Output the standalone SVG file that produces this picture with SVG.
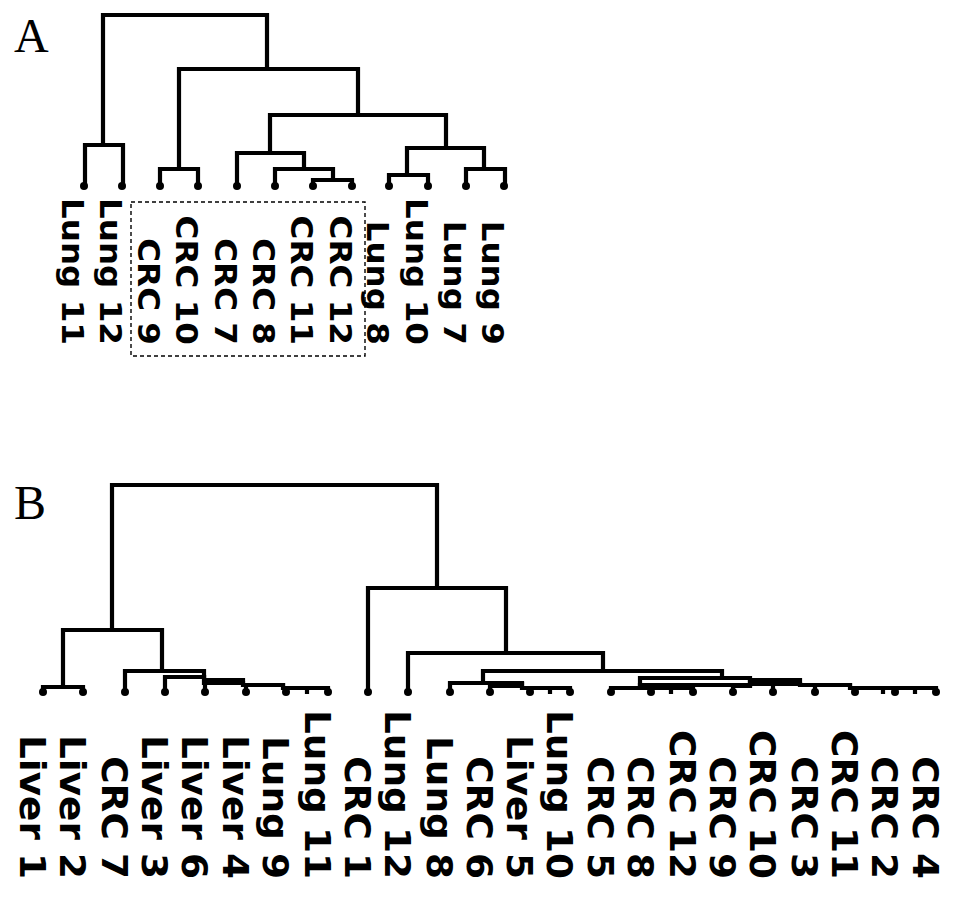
<svg xmlns="http://www.w3.org/2000/svg" width="969" height="907" viewBox="0 0 969 907">
<style>
.tree{fill:none;stroke:#000;stroke-width:4.2;stroke-linejoin:miter;stroke-linecap:square}
.dot{fill:#000}
.la{font-family:"DejaVu Sans",Verdana,sans-serif;font-weight:bold;font-size:31px;fill:#000}
.lb{font-family:"DejaVu Sans",Verdana,sans-serif;font-weight:bold;font-size:35px;fill:#000}
.panel{font-family:"Liberation Serif","Times New Roman",serif;font-size:48px;fill:#000}
.box{fill:none;stroke:#000;stroke-width:1.4;stroke-dasharray:4 3}
</style>
<rect width="969" height="907" fill="#fff"/>
<text class="panel" x="14" y="52">A</text>
<text class="panel" x="14" y="519">B</text>

<g id="connectors">
 <g id="treeA" class="tree">
  <path d="M103,145 V15 H267 V69"/>
  <path d="M85,186 V145 H123 V186"/>
  <path d="M179,169 V69 H358 V115"/>
  <path d="M160,186 V169 H198 V186"/>
  <path d="M270,153 V115 H446 V148"/>
  <path d="M237,186 V153 H304 V169"/>
  <path d="M275,186 V169 H333 V180"/>
  <path d="M313,186 V180 H352 V186"/>
  <path d="M407,175 V148 H484 V169"/>
  <path d="M389,186 V175 H428 V186"/>
  <path d="M466,186 V169 H505 V186"/>
 </g>
 <g id="treeB" class="tree">
  <path d="M112,630 V485 H437 V588"/>
  <path d="M63,687 V630 H162 V671"/>
  <path d="M43,692 V687 H83 V692"/>
  <path d="M125,692 V671 H204 V677"/>
  <path d="M165,692 V677 H204"/>
  <path d="M204,677 V680 H243 M204,683 H243"/>
  <path d="M205,692 V683"/>
  <path d="M243,683 V685 H283 M246,692 V685"/>
  <path d="M283,685 V688 H328 M286,692 V688 M307,692 V688 M328,692 V688"/>
  <path d="M368,692 V588 H506 V653"/>
  <path d="M408,692 V653 H603 V671"/>
  <path d="M483,683 V671 H722 V678"/>
  <path d="M450,692 V683 H522 M490,692 V686 H522"/>
  <path d="M522,684 V688 H570 M530,692 V688 M550,692 V688 M570,692 V688"/>
  <path d="M640,685 V678 H750 V685 H640"/>
  <path d="M750,680 H800 M750,684 H800 M733,692 V686 H750"/>
  <path d="M773,692 V684 M800,684 V685 H850 M815,692 V685"/>
  <path d="M850,685 V688 H936 M855,692 V688 M883,692 V688 M895,692 V688 M915,692 V688 M936,692 V688"/>
  <path d="M640,685 V688 M611,692 V688 H693 M651,692 V688 M671,692 V688 M693,692 V688"/>
 </g>
</g>

<rect class="box" x="131" y="202" width="234" height="154"/>

<g id="A-Lung11"><circle class="dot" cx="84" cy="186" r="4"/><text class="la" text-anchor="end" transform="translate(62,345) rotate(90) scale(1.05,1)">Lung 11</text></g>
<g id="A-Lung12"><circle class="dot" cx="122" cy="186" r="4"/><text class="la" text-anchor="end" transform="translate(100,345) rotate(90) scale(1.05,1)">Lung 12</text></g>
<g id="A-CRC9"><circle class="dot" cx="160" cy="186" r="4"/><text class="la" text-anchor="end" transform="translate(138,345) rotate(90) scale(1.05,1)">CRC 9</text></g>
<g id="A-CRC10"><circle class="dot" cx="198" cy="186" r="4"/><text class="la" text-anchor="end" transform="translate(176,345) rotate(90) scale(1.05,1)">CRC 10</text></g>
<g id="A-CRC7"><circle class="dot" cx="237" cy="186" r="4"/><text class="la" text-anchor="end" transform="translate(215,345) rotate(90) scale(1.05,1)">CRC 7</text></g>
<g id="A-CRC8"><circle class="dot" cx="275" cy="186" r="4"/><text class="la" text-anchor="end" transform="translate(253,345) rotate(90) scale(1.05,1)">CRC 8</text></g>
<g id="A-CRC11"><circle class="dot" cx="313" cy="186" r="4"/><text class="la" text-anchor="end" transform="translate(291,345) rotate(90) scale(1.05,1)">CRC 11</text></g>
<g id="A-CRC12"><circle class="dot" cx="352" cy="186" r="4"/><text class="la" text-anchor="end" transform="translate(330,345) rotate(90) scale(1.05,1)">CRC 12</text></g>
<g id="A-Lung8"><circle class="dot" cx="389" cy="186" r="4"/><text class="la" text-anchor="end" transform="translate(367,345) rotate(90) scale(1.05,1)">Lung 8</text></g>
<g id="A-Lung10"><circle class="dot" cx="428" cy="186" r="4"/><text class="la" text-anchor="end" transform="translate(406,345) rotate(90) scale(1.05,1)">Lung 10</text></g>
<g id="A-Lung7"><circle class="dot" cx="466" cy="186" r="4"/><text class="la" text-anchor="end" transform="translate(444,345) rotate(90) scale(1.05,1)">Lung 7</text></g>
<g id="A-Lung9"><circle class="dot" cx="504" cy="186" r="4"/><text class="la" text-anchor="end" transform="translate(482,345) rotate(90) scale(1.05,1)">Lung 9</text></g>

<g id="B-Liver1"><circle class="dot" cx="43" cy="692" r="4"/><text class="lb" text-anchor="end" transform="translate(20,879) rotate(90) scale(1.07,1)">Liver 1</text></g>
<g id="B-Liver2"><circle class="dot" cx="83" cy="692" r="4"/><text class="lb" text-anchor="end" transform="translate(60,879) rotate(90) scale(1.07,1)">Liver 2</text></g>
<g id="B-CRC7"><circle class="dot" cx="125" cy="692" r="4"/><text class="lb" text-anchor="end" transform="translate(102,879) rotate(90) scale(1.07,1)">CRC 7</text></g>
<g id="B-Liver3"><circle class="dot" cx="165" cy="692" r="4"/><text class="lb" text-anchor="end" transform="translate(142,879) rotate(90) scale(1.07,1)">Liver 3</text></g>
<g id="B-Liver6"><circle class="dot" cx="205" cy="692" r="4"/><text class="lb" text-anchor="end" transform="translate(182,879) rotate(90) scale(1.07,1)">Liver 6</text></g>
<g id="B-Liver4"><circle class="dot" cx="246" cy="692" r="4"/><text class="lb" text-anchor="end" transform="translate(223,879) rotate(90) scale(1.07,1)">Liver 4</text></g>
<g id="B-Lung9"><circle class="dot" cx="286" cy="692" r="4"/><text class="lb" text-anchor="end" transform="translate(263,879) rotate(90) scale(1.07,1)">Lung 9</text></g>
<g id="B-Lung11"><circle class="dot" cx="328" cy="692" r="4"/><text class="lb" text-anchor="end" transform="translate(305,879) rotate(90) scale(1.07,1)">Lung 11</text></g>
<g id="B-CRC1"><circle class="dot" cx="368" cy="692" r="4"/><text class="lb" text-anchor="end" transform="translate(345,879) rotate(90) scale(1.07,1)">CRC 1</text></g>
<g id="B-Lung12"><circle class="dot" cx="408" cy="692" r="4"/><text class="lb" text-anchor="end" transform="translate(385,879) rotate(90) scale(1.07,1)">Lung 12</text></g>
<g id="B-Lung8"><circle class="dot" cx="450" cy="692" r="4"/><text class="lb" text-anchor="end" transform="translate(427,879) rotate(90) scale(1.07,1)">Lung 8</text></g>
<g id="B-CRC6"><circle class="dot" cx="490" cy="692" r="4"/><text class="lb" text-anchor="end" transform="translate(467,879) rotate(90) scale(1.07,1)">CRC 6</text></g>
<g id="B-Liver5"><circle class="dot" cx="530" cy="692" r="4"/><text class="lb" text-anchor="end" transform="translate(507,879) rotate(90) scale(1.07,1)">Liver 5</text></g>
<g id="B-Lung10"><circle class="dot" cx="570" cy="692" r="4"/><text class="lb" text-anchor="end" transform="translate(547,879) rotate(90) scale(1.07,1)">Lung 10</text></g>
<g id="B-CRC5"><circle class="dot" cx="611" cy="692" r="4"/><text class="lb" text-anchor="end" transform="translate(588,879) rotate(90) scale(1.07,1)">CRC 5</text></g>
<g id="B-CRC8"><circle class="dot" cx="651" cy="692" r="4"/><text class="lb" text-anchor="end" transform="translate(628,879) rotate(90) scale(1.07,1)">CRC 8</text></g>
<g id="B-CRC12"><circle class="dot" cx="693" cy="692" r="4"/><text class="lb" text-anchor="end" transform="translate(670,879) rotate(90) scale(1.07,1)">CRC 12</text></g>
<g id="B-CRC9"><circle class="dot" cx="733" cy="692" r="4"/><text class="lb" text-anchor="end" transform="translate(710,879) rotate(90) scale(1.07,1)">CRC 9</text></g>
<g id="B-CRC10"><circle class="dot" cx="773" cy="692" r="4"/><text class="lb" text-anchor="end" transform="translate(750,879) rotate(90) scale(1.07,1)">CRC 10</text></g>
<g id="B-CRC3"><circle class="dot" cx="815" cy="692" r="4"/><text class="lb" text-anchor="end" transform="translate(792,879) rotate(90) scale(1.07,1)">CRC 3</text></g>
<g id="B-CRC11"><circle class="dot" cx="855" cy="692" r="4"/><text class="lb" text-anchor="end" transform="translate(832,879) rotate(90) scale(1.07,1)">CRC 11</text></g>
<g id="B-CRC2"><circle class="dot" cx="895" cy="692" r="4"/><text class="lb" text-anchor="end" transform="translate(872,879) rotate(90) scale(1.07,1)">CRC 2</text></g>
<g id="B-CRC4"><circle class="dot" cx="936" cy="692" r="4"/><text class="lb" text-anchor="end" transform="translate(913,879) rotate(90) scale(1.07,1)">CRC 4</text></g>
</svg>
